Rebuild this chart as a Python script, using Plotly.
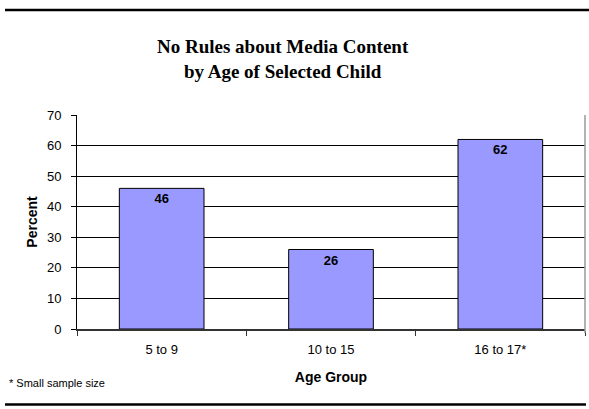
import plotly.graph_objects as go

# Survey results: share of parents reporting no rules about media content
age_groups = ["5 to 9", "10 to 15", "16 to 17*"]
percent = [46, 26, 62]

title_lines = ["No Rules about Media Content", "by Age of Selected Child"]
y_ticks = [0, 10, 20, 30, 40, 50, 60, 70]

W, H = 589, 409
L, R, T, B = 77, 585, 115, 329  # plot-area pixel box

fig = go.Figure()
fig.add_trace(go.Bar(
    x=age_groups,
    y=percent,
    width=0.5,
    marker=dict(color="#9999FF", line=dict(color="black", width=1)),
    text=[str(v) for v in percent],
    textposition="inside",
    insidetextanchor="end",
    textfont=dict(family="Liberation Sans, Arial", size=13, color="black"),
    texttemplate="<b>%{text}</b>",
    hoverinfo="skip",
))

fig.update_layout(
    width=W, height=H,
    margin=dict(l=L, r=W - R, t=T, b=H - B, pad=0),
    paper_bgcolor="white",
    plot_bgcolor="white",
    showlegend=False,
    bargap=0.5,
    font=dict(family="Liberation Sans, Arial", size=13, color="black"),
)

fig.update_xaxes(
    type="category",
    range=[-0.5, 2.5],
    tickson="boundaries",
    ticks="outside",
    ticklen=5,
    tickcolor="#333333",
    showline=True,
    linecolor="#333333",
    linewidth=1.5,
    showgrid=False,
    tickfont=dict(size=13),
    ticklabelstandoff=8,
    title=dict(text="<b>Age Group</b>", font=dict(size=14), standoff=16),
)

fig.update_yaxes(
    range=[0, 70],
    tickvals=y_ticks,
    ticks="outside",
    ticklen=5,
    tickcolor="black",
    showline=True,
    linecolor="black",
    linewidth=1,
    showgrid=True,
    gridcolor="black",
    gridwidth=1,
    zeroline=False,
    tickfont=dict(size=13),
    ticklabelstandoff=7,
    title=dict(text="<b>Percent</b>", font=dict(size=14), standoff=6),
)

# paper-fraction helpers for placing decorations in pixel terms
def px_x(p):
    return (p - L) / (R - L)

def px_y(p):
    return (B - p) / (B - T)

shapes = [
    # right border of the plot area
    dict(type="line", xref="paper", yref="paper", x0=1, x1=1, y0=px_y(333), y1=1,
         line=dict(color="#999999", width=1.5)),
    # rules above and below the chart
    dict(type="line", xref="paper", yref="paper", x0=px_x(5), x1=px_x(589),
         y0=px_y(10), y1=px_y(10), line=dict(color="black", width=2.5)),
    dict(type="line", xref="paper", yref="paper", x0=px_x(5), x1=px_x(586),
         y0=px_y(404.5), y1=px_y(404.5), line=dict(color="black", width=2.5)),
]
fig.update_layout(shapes=shapes)

fig.add_annotation(
    xref="paper", yref="paper",
    x=px_x(283), y=px_y(58.5),
    xanchor="center", yanchor="middle",
    text="<b>" + "<br>".join(title_lines) + "</b>",
    showarrow=False,
    font=dict(family="Liberation Serif, Times New Roman", size=19, color="black"),
)

fig.add_annotation(
    xref="paper", yref="paper",
    x=px_x(7), y=px_y(383),
    xanchor="left", yanchor="middle",
    text="* Small sample size",
    showarrow=False,
    font=dict(size=11, color="black"),
)

fig.write_html("out.html")
